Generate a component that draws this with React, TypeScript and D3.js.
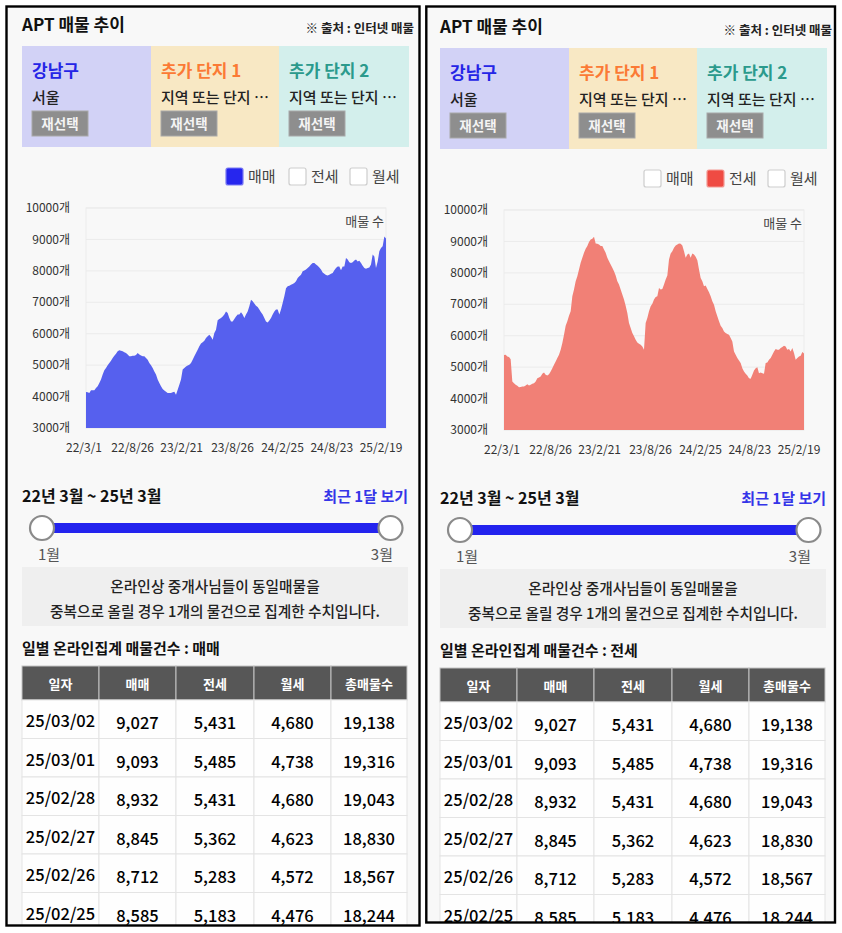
import React from 'react';
import * as d3 from 'd3';

const START = new Date(2022, 2, 1);
const END = new Date(2025, 2, 2);

const saleSeries = [
  4146, 4140, 4115, 4200, 4200, 4200, 4270, 4330, 4430, 4540,
  4700, 4840, 4910, 5000, 5070, 5140, 5230, 5300, 5365, 5440,
  5470, 5460, 5440, 5410, 5390, 5335, 5280, 5280, 5300, 5300,
  5320, 5390, 5335, 5310, 5280, 5280, 5230, 5175, 5070, 5000,
  4910, 4800, 4700, 4540, 4430, 4330, 4240, 4190, 4150, 4115,
  4115, 4115, 4140, 4150, 4060, 4220, 4380, 4540, 4860, 4910,
  4960, 4985, 5015, 5070, 5175, 5280, 5390, 5490, 5600, 5685,
  5725, 5780, 5865, 5920, 5970, 5900, 5810, 6020, 6130, 6430,
  6470, 6500, 6550, 6610, 6710, 6660, 6500, 6390, 6390, 6470,
  6550, 6610, 6610,
  6680, 6610, 6500, 6610, 6710, 6870, 7080, 7030, 6960, 6890,
  6850, 6770, 6680, 6610, 6500, 6390, 6360, 6420, 6500, 6610,
  6710, 6770, 6770, 6610, 6770, 6980, 7190, 7450, 7510, 7530,
  7560, 7580, 7610, 7670, 7770, 7830, 7880, 7990, 8010, 8040,
  8090, 8140, 8200, 8250, 8250, 8200, 8165, 8110, 8040, 7950,
  7910, 7870, 7850, 7880, 7910, 7930, 8020, 8090, 8140, 8140,
  8020, 8140, 8140, 8410, 8360, 8270, 8250, 8270, 8330, 8360,
  8300, 8320, 8250, 8165, 8090, 8070, 8090, 8110, 8200, 8520,
  8460, 8090, 8300, 8620, 8730, 8780, 9093, 9027,
];

const jeonseSeries = [
  5383, 5394, 5340, 5320, 5255, 4543, 4490, 4436, 4404, 4362,
  4372, 4383, 4383, 4415, 4457, 4415, 4436, 4468, 4490, 4543,
  4650, 4670, 4700, 4787, 4830, 4755, 4734, 4777, 4862, 4968,
  5074, 5180, 5287, 5394, 5553, 5766, 6030, 6320, 6457, 6638,
  6777, 7255, 7468, 7734, 7894, 8106, 8320, 8479, 8638, 8766,
  8851, 8979, 9064, 9085, 9149, 8936, 8926, 8904, 8851, 8851,
  8745, 8638, 8479, 8372, 8266, 8160, 8053, 7915, 7734, 7628,
  7468, 7308, 7149, 6957, 6723, 6404, 6245, 6085, 5979, 5872,
  5787, 5745, 5713, 5660, 5553, 6404, 6564, 6777, 6936, 7021,
  7149, 7234, 7255,
  7521, 7468, 7489, 7628, 7787, 7915, 8426, 8617, 8691, 8798,
  8872, 8904, 8936, 8926, 8872, 8691, 8479, 8585, 8617, 8479,
  8617, 8585, 8511, 8404, 8106, 7840, 7734, 7574, 7596, 7489,
  7383, 7255, 7096, 6989, 6777, 6617, 6457, 6319, 6245, 6138,
  6085, 6053, 6032, 5926, 5819, 5500, 5394, 5287, 5213, 5128,
  4968, 4862, 4787, 4734, 4649, 4628, 4755, 4894, 4968, 5000,
  4809, 4830, 4809, 4787, 5128, 5149, 5234, 5287, 5394, 5500,
  5574, 5553, 5553, 5606, 5638, 5681, 5660, 5553, 5574, 5500,
  5606, 5447, 5234, 5287, 5340, 5362, 5485, 5431,
];

const yTickValues = [3000, 4000, 5000, 6000, 7000, 8000, 9000, 10000];
const xTickLabels = ['22/3/1', '22/8/26', '23/2/21', '23/8/26', '24/2/25', '24/8/23', '25/2/19'];
const legendLabels = ['매매', '전세', '월세'];
const regionTitles = ['강남구', '추가 단지 1', '추가 단지 2'];
const regionSubs = ['서울', '지역 또는 단지 …', '지역 또는 단지 …'];
const tableHeaders = ['일자', '매매', '전세', '월세', '총매물수'];
const tableDates = ['25/03/02', '25/03/01', '25/02/28', '25/02/27', '25/02/26', '25/02/25'];
const tableSale = [9027, 9093, 8932, 8845, 8712, 8585];
const tableJeonse = [5431, 5485, 5431, 5362, 5283, 5183];
const tableMonthly = [4680, 4738, 4680, 4623, 4572, 4476];
const tableTotal = [19138, 19316, 19043, 18830, 18567, 18244];
const rangeLabel = '22년 3월 ~ 25년 3월';
const sliderLabels = ['1월', '3월'];

const FONT = "'Noto Sans CJK KR', 'Noto Sans', sans-serif";
const regionBg = ['#d2d2f6', '#f8e8c4', '#d3efec'];
const regionFg = ['#2525e6', '#fb7a35', '#2b9a8c'];
const legendActive = [
  { fill: '#2626ee', stroke: '#7a7af3' },
  { fill: '#ef4b43', stroke: '#f39a94' },
];

function parseTick(s: string) {
  const [yy, m, d] = s.split('/').map(Number);
  return new Date(2000 + yy, m - 1, d);
}

function Chart({ values, color }: { values: number[]; color: string }) {
  const x = d3.scaleTime().domain([START, END]).range([86, 386]);
  const y = d3.scaleLinear().domain([3000, 10000]).range([428, 208]);
  const n = values.length;
  const span = END.getTime() - START.getTime();
  const dates = values.map((_, i) => new Date(START.getTime() + (i * span) / (n - 1)));
  const area = d3
    .area<number>()
    .x((_, i) => x(dates[i]))
    .y0(y(3000))
    .y1((d) => y(d));
  return (
    <g>
      <rect x={86} y={208} width={300} height={220} fill="none" stroke="#ececec" />
      {yTickValues.map((v) => (
        <g key={v}>
          <line x1={86} x2={386} y1={y(v)} y2={y(v)} stroke="#ebebeb" strokeWidth={1} />
          <text x={70} y={y(v)} dy="0.35em" textAnchor="end" fontSize={12} fill="#333" fontFamily={FONT}>
            {v}개
          </text>
        </g>
      ))}
      <path d={area(values) || ''} fill={color} />
      {xTickLabels.map((s) => (
        <text key={s} x={x(parseTick(s)) - 2} y={452} textAnchor="middle" fontSize={12} fill="#333" fontFamily={FONT}>
          {s}
        </text>
      ))}
      <text x={384} y={226} textAnchor="end" fontSize={13} fill="#444" fontFamily={FONT}>
        매물 수
      </text>
    </g>
  );
}

function Panel({ active, values, color }: { active: number; values: number[]; color: string }) {
  const fmt = d3.format(',');
  const colX = [22, 99, 176, 254, 331, 407];
  const rowH = 38.5;
  return (
    <g fontFamily={FONT}>
      <text x={22} y={31} fontSize={17} fontWeight={700} fill="#111">APT 매물 추이</text>
      <text x={414} y={33} textAnchor="end" fontSize={12.5} fontWeight={600} fill="#222">※ 출처 : 인터넷 매물</text>
      {regionTitles.map((t, i) => {
        const bx = [22, 151, 279][i];
        const bw = [129, 128, 130][i];
        return (
          <g key={t}>
            <rect x={bx} y={46} width={bw} height={101} fill={regionBg[i]} />
            <text x={bx + 10} y={77} fontSize={17} fontWeight={700} fill={regionFg[i]}>{t}</text>
            <text x={bx + 10} y={103} fontSize={15} fontWeight={500} fill="#222">{regionSubs[i]}</text>
            <rect x={bx + 10} y={111} width={56} height={25} fill="#8e8e8e" stroke="#a8a8a8" />
            <text x={bx + 38} y={129} textAnchor="middle" fontSize={13.5} fontWeight={700} fill="#f4f4f4">재선택</text>
          </g>
        );
      })}
      {legendLabels.map((l, i) => {
        const lx = [226, 289, 350][i];
        const on = i === active;
        return (
          <g key={l}>
            <rect x={lx} y={168} width={17} height={17} rx={2}
              fill={on ? legendActive[active].fill : '#fff'}
              stroke={on ? legendActive[active].stroke : '#cdcdcd'} strokeWidth={1.2} />
            <text x={lx + 22} y={182} fontSize={15} fill="#444">{l}</text>
          </g>
        );
      })}
      <Chart values={values} color={color} />
      <text x={22} y={502} fontSize={16} fontWeight={700} fill="#111">{rangeLabel}</text>
      <text x={408} y={502} textAnchor="end" fontSize={15} fontWeight={600} fill="#3434e8">최근 1달 보기</text>
      <rect x={42} y={523} width={348} height={10} fill="#2323ee" />
      <circle cx={42} cy={528} r={12} fill="#fff" stroke="#8a8a8a" strokeWidth={2.2} />
      <circle cx={390.5} cy={528} r={12} fill="#fff" stroke="#8a8a8a" strokeWidth={2.2} />
      <text x={38} y={560} fontSize={15} fill="#555">{sliderLabels[0]}</text>
      <text x={393} y={560} textAnchor="end" fontSize={15} fill="#555">{sliderLabels[1]}</text>
      <rect x={22} y={567} width={386} height={59} fill="#efefef" />
      <text x={215} y={592} textAnchor="middle" fontSize={14.7} fontWeight={500} fill="#222">온라인상 중개사님들이 동일매물을</text>
      <text x={215} y={617} textAnchor="middle" fontSize={14.7} fontWeight={500} fill="#222">중복으로 올릴 경우 1개의 물건으로 집계한 수치입니다.</text>
      <text x={22} y={654} fontSize={15} fontWeight={700} fill="#111">일별 온라인집계 매물건수 : {legendLabels[active]}</text>
      {tableHeaders.map((h, c) => (
        <g key={h}>
          <rect x={colX[c]} y={666} width={colX[c + 1] - colX[c]} height={34} fill="#575757" stroke="#c4c4c4" strokeWidth={1} />
          <text x={(colX[c] + colX[c + 1]) / 2} y={689} textAnchor="middle" fontSize={13} fontWeight={700} fill="#fff">{h}</text>
        </g>
      ))}
      {tableDates.map((d, r) => {
        const y0 = 700 + r * rowH;
        const cells = [d, fmt(tableSale[r]), fmt(tableJeonse[r]), fmt(tableMonthly[r]), fmt(tableTotal[r])];
        return (
          <g key={d}>
            {cells.map((cv, c) => (
              <g key={c}>
                <rect x={colX[c]} y={y0} width={colX[c + 1] - colX[c]} height={rowH} fill="#fefefe" stroke="#e4e4e4" strokeWidth={1} />
                <text x={(colX[c] + colX[c + 1]) / 2} y={y0 + (c === 0 ? 27 : 29)} textAnchor="middle" fontSize={16.5} fontWeight={500} fill="#000">{cv}</text>
              </g>
            ))}
          </g>
        );
      })}
    </g>
  );
}

export default function App() {
  return (
    <svg width={842} height={933} style={{ position: 'absolute', left: 0, top: 0 }}>
      <defs>
        <clipPath id="clipL"><rect x={7} y={7} width={412} height={918} /></clipPath>
        <clipPath id="clipR"><rect x={427} y={7} width={407} height={915} /></clipPath>
      </defs>
      <rect x={0} y={0} width={842} height={933} fill="#ffffff" />
      <g clipPath="url(#clipL)">
        <rect x={7} y={7} width={412} height={918} fill="#f8f8f8" />
        <Panel active={0} values={saleSeries} color="#5660ee" />
      </g>
      <g clipPath="url(#clipR)">
        <rect x={427} y={7} width={407} height={915} fill="#f8f8f8" />
        <g transform="translate(418,2)">
          <Panel active={1} values={jeonseSeries} color="#f18076" />
        </g>
      </g>
      <rect x={6.5} y={6.5} width={413} height={919} fill="none" stroke="#000" strokeWidth={2.4} />
      <rect x={426.3} y={6.5} width={408.7} height={916} fill="none" stroke="#000" strokeWidth={2.4} />
    </svg>
  );
}
